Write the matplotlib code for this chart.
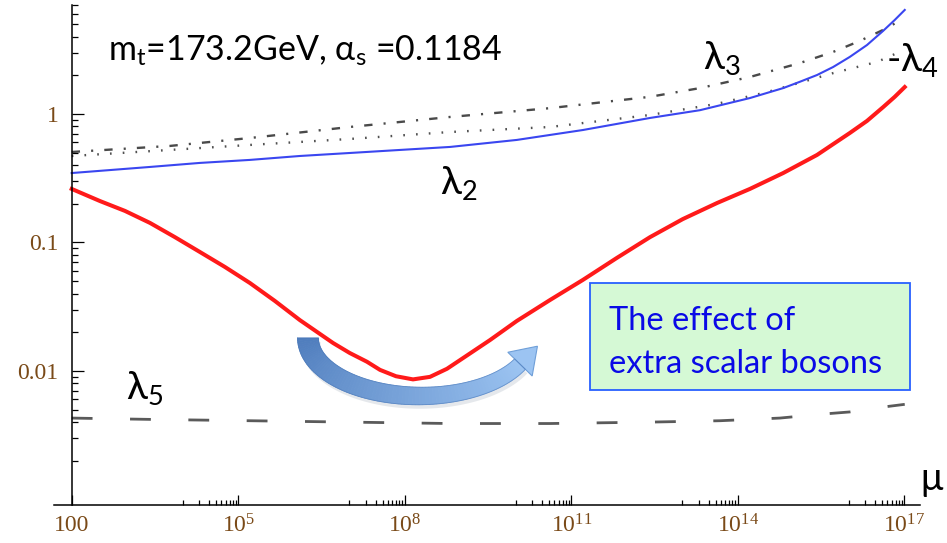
import numpy as np
import matplotlib
matplotlib.use('Agg')
import matplotlib.pyplot as plt
from matplotlib.patches import Rectangle, Polygon
from matplotlib.colors import to_rgb
from matplotlib.ticker import FixedLocator, FixedFormatter, NullFormatter

plt.rcParams['lines.scale_dashes'] = False

# ── running couplings vs log10(mu/GeV) ─────────────────────────
logmu_1 = [2.0, 2.51, 2.96, 3.41, 3.86, 4.31, 4.76, 5.21, 5.66, 6.11, 6.71, 7.01,
           7.32, 7.555, 7.843, 8.15, 8.456, 8.762, 9.087, 9.537, 10.02, 10.62, 11.21,
           11.82, 12.42, 13.01, 13.63, 14.22, 14.82, 15.43, 16.02, 16.33, 16.62,
           16.83, 17.01]
lam_1 = [0.261, 0.210, 0.176, 0.142, 0.110, 0.0843, 0.0645, 0.0484, 0.0351, 0.0249,
         0.0165, 0.0138, 0.0118, 0.0102, 0.0091, 0.0086, 0.0090, 0.0104, 0.0129,
         0.0174, 0.0245, 0.0357, 0.0511, 0.0757, 0.110, 0.152, 0.203, 0.261,
         0.347, 0.480, 0.711, 0.883, 1.13, 1.36, 1.62]

logmu_2 = [2.0, 3.41, 4.31, 5.21, 6.11, 7.01, 7.92, 8.82, 10.02, 11.21, 12.42, 13.32,
           14.22, 14.82, 15.12, 15.43, 15.72, 16.02, 16.33, 16.62, 16.83, 17.01]
lam_2 = [0.347, 0.387, 0.416, 0.439, 0.471, 0.497, 0.525, 0.554, 0.628, 0.750, 0.931,
         1.07, 1.33, 1.59, 1.78, 2.01, 2.32, 2.78, 3.44, 4.43, 5.39, 6.45]

logmu_3 = [2.0, 3.77, 5.21, 7.01, 8.82, 10.62, 12.42, 13.32, 14.22, 15.12, 15.72,
           16.20, 16.62, 16.98]
lam_3 = [0.506, 0.564, 0.650, 0.792, 0.948, 1.11, 1.36, 1.59, 1.94, 2.49, 3.04, 3.70,
         4.51, 5.49]

logmu_4 = [2.0, 3.77, 5.21, 7.01, 8.82, 10.62, 12.42, 13.63, 14.53, 15.72, 16.51, 16.92]
neg_lam_4 = [0.471, 0.525, 0.574, 0.639, 0.724, 0.792, 0.982, 1.20, 1.48, 2.08, 2.54, 3.04]

logmu_5 = [2.0, 3.41, 5.21, 7.01, 8.82, 10.62, 12.42, 13.68, 14.76, 15.48, 16.02,
           16.56, 17.01]
lam_5 = [0.0043, 0.0042, 0.0041, 0.0040, 0.0039, 0.0039, 0.0040, 0.0041, 0.0043,
         0.0046, 0.0048, 0.0052, 0.0055]

x_major = [1e2, 1e5, 1e8, 1e11, 1e14, 1e17]
x_major_labels = ['100', r'$\mathregular{10^{5}}$', r'$\mathregular{10^{8}}$',
                  r'$\mathregular{10^{11}}$', r'$\mathregular{10^{14}}$',
                  r'$\mathregular{10^{17}}$']
y_major = [0.01, 0.1, 1]
y_major_labels = ['0.01', '0.1', '1']

W, H = 947, 543
fig = plt.figure(figsize=(W / 100, H / 100), dpi=100)
fig.patch.set_facecolor('white')

ax = fig.add_axes([54 / W, 38 / H, 866 / W, 500 / H])
ax.set_xscale('log')
ax.set_yscale('log')
ax.set_xlim(10 ** 1.681, 10 ** 17.285)
ax.set_ylim(10 ** -3.043, 10 ** 0.848)
ax.patch.set_alpha(0)

mu = lambda e: 10.0 ** np.asarray(e)
ax.plot(mu(logmu_5), lam_5, color='#5a5a5a', lw=2.0, dashes=(15, 27),
        dash_capstyle='butt')
ax.plot(mu(logmu_4), neg_lam_4, color='#505050', lw=1.7, dashes=(1.2, 8),
        dash_capstyle='butt')
ax.plot(mu(logmu_3), lam_3, color='#4a4a4a', lw=1.7, dashes=(6, 8, 1.5, 8),
        dash_capstyle='butt')
ax.plot(mu(logmu_2), lam_2, color='#3a46f0', lw=1.5)
ax.plot(mu(logmu_1), lam_1, color='#ff1a1a', lw=2.9, solid_joinstyle='round')

# Mathematica-style axes: vertical axis sits at mu = 100
ax.spines['left'].set_position(('data', 100))
ax.spines[['top', 'right']].set_visible(False)
for s in ('left', 'bottom'):
    ax.spines[s].set_linewidth(1.1)

x_minor = [k * 10.0 ** (n - 1) for n in (5, 8, 11, 14, 17) for k in range(1, 10)]
y_minor = [k * 10.0 ** m for m in (-4, -3, -2, -1, 0) for k in range(2, 10)]
ax.xaxis.set_major_locator(FixedLocator(x_major))
ax.xaxis.set_major_formatter(FixedFormatter(x_major_labels))
ax.xaxis.set_minor_locator(FixedLocator(x_minor))
ax.xaxis.set_minor_formatter(NullFormatter())
ax.yaxis.set_major_locator(FixedLocator(y_major))
ax.yaxis.set_major_formatter(FixedFormatter(y_major_labels))
ax.yaxis.set_minor_locator(FixedLocator(y_minor))
ax.yaxis.set_minor_formatter(NullFormatter())

lab_col = '#7a4a18'
ax.tick_params(which='both', direction='in', width=0.9)
ax.tick_params(axis='x', which='major', length=7, pad=7)
ax.tick_params(axis='x', which='minor', length=3.6)
ax.tick_params(axis='y', which='major', length=8.3, pad=9.5)
ax.tick_params(axis='y', which='minor', length=4)
for lab in ax.get_xticklabels() + ax.get_yticklabels():
    lab.set_fontfamily('Liberation Serif')
    lab.set_fontsize(17)
    lab.set_color(lab_col)

# ── overlay in pixel coordinates for labels and the arrow ──────
ov = fig.add_axes([0, 0, 1, 1])
ov.set_xlim(0, W)
ov.set_ylim(H, 0)
ov.axis('off')

fam = ['Lato', 'Noto Sans']
ov.text(108, 60, r'm$_\mathregular{t}$=173.2GeV, α$_\mathregular{s}$ =0.1184',
        fontsize=24.5, family=fam, va='baseline')
ov.text(703, 70, r'λ$_\mathregular{3}$', fontsize=28, family=fam, va='baseline')
ov.text(886, 72, r'-λ$_\mathregular{4}$', fontsize=28, family=fam, va='baseline')
ov.text(440, 195, r'λ$_\mathregular{2}$', fontsize=28, family=fam, va='baseline')
ov.text(126, 400, r'λ$_\mathregular{5}$', fontsize=28, family=fam, va='baseline')
ov.text(920, 490, 'μ', fontsize=27, family=fam, va='baseline')

# annotation box
ov.add_patch(Rectangle((590, 283), 320, 107, facecolor='#d5f9d5',
                       edgecolor='#2860ff', lw=1.3))
ov.text(609, 330, 'The effect of', fontsize=23.5, family=fam, color='#0a0ae6',
        va='baseline')
ov.text(609, 373, 'extra scalar bosons', fontsize=23.5, family=fam, color='#0a0ae6',
        va='baseline')

# curved gradient arrow under the dip
cx, cy, rx, ry = 420, 338, 112, 58
t_end = np.arccos(-100 / 112)
t = np.linspace(0, t_end, 90)
xc = cx - rx * np.cos(t)
yc = cy + ry * np.sin(t)
tx, ty = rx * np.sin(t), ry * np.cos(t)
nrm = np.hypot(tx, ty)
tx, ty = tx / nrm, ty / nrm
nx, ny = -ty, tx
hw = np.linspace(10.5, 7.5, len(t))
lx, ly = xc + nx * hw, yc + ny * hw
rx_, ry_ = xc - nx * hw, yc - ny * hw

# soft shadow
ov.add_patch(Polygon(np.column_stack([np.r_[lx, rx_[::-1]] + 2, np.r_[ly, ry_[::-1]] + 4]),
                     closed=True, fc='#9aa6b4', ec='none', alpha=0.25))

c0 = np.array(to_rgb('#4f7dbd'))
c1 = np.array(to_rgb('#9cc4f2'))
for i in range(len(t) - 1):
    f = i / (len(t) - 2)
    col = c0 + (c1 - c0) * f
    quad = [[lx[i], ly[i]], [lx[i + 1], ly[i + 1]],
            [rx_[i + 1], ry_[i + 1]], [rx_[i], ry_[i]]]
    ov.add_patch(Polygon(quad, closed=True, fc=col, ec=col, lw=0.6))

bx, by = xc[-1], yc[-1]
ux, uy = tx[-1], ty[-1]
px_, py_ = -uy, ux
head = [[bx + px_ * 17, by + py_ * 17], [bx + ux * 25, by + uy * 25],
        [bx - px_ * 17, by - py_ * 17]]
ov.add_patch(Polygon(head, closed=True, fc=c1, ec='#6f9fd8', lw=0.8))
outline = np.column_stack([np.r_[lx, rx_[::-1], lx[:1]], np.r_[ly, ry_[::-1], ly[:1]]])
ov.plot(outline[:, 0], outline[:, 1], color='#4a78b8', lw=0.6, alpha=0.6)

fig.savefig('out.png', dpi=100, facecolor='white')
